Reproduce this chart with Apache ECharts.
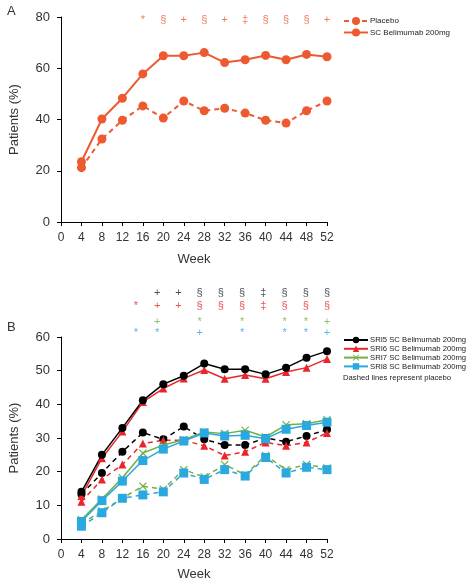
<!DOCTYPE html>
<html><head><meta charset="utf-8">
<script src="https://cdn.jsdelivr.net/npm/echarts@6/dist/echarts.min.js"></script>
<style>html,body{margin:0;padding:0;background:#fff}#c{width:470px;height:582px}</style>
</head><body><div id="c"></div>
<script>
const weeks = [4,8,12,16,20,24,28,32,36,40,44,48,52];
// Panel A
const aPlacebo = [21.2,32.4,39.7,45.3,40.6,47.2,43.4,44.4,42.5,39.7,38.6,43.4,47.2];
const aBelimumab = [23.5,40.2,48.3,57.8,64.9,64.9,66.1,62.2,63.3,65.0,63.3,65.4,64.5];
const aSymbols = ['*','§','+','§','+','‡','§','§','§','+'];
const aSymbolWeeks = [16,20,24,28,32,36,40,44,48,52];
// Panel B
const sri5Bel = [14.0,25.0,33.0,41.2,46.0,48.5,52.1,50.4,50.4,48.9,50.9,53.8,55.8];
const sri6Bel = [12.8,24.0,31.9,40.7,44.7,47.7,50.2,47.6,48.7,47.6,49.6,50.9,53.5];
const sri7Bel = [5.7,11.9,18.2,25.5,27.9,29.5,31.8,31.3,32.3,30.3,33.9,34.2,35.4];
const sri8Bel = [5.2,11.4,17.2,23.3,26.7,29.1,31.5,30.6,30.8,29.8,32.6,33.7,34.7];
const sri5Pbo = [13.3,19.6,25.9,31.6,29.6,33.4,29.6,27.9,27.9,30.0,28.9,30.6,32.5];
const sri6Pbo = [11.1,17.7,22.1,28.4,29.3,29.3,27.7,24.8,25.9,28.7,27.7,28.7,31.5];
const sri7Pbo = [4.6,8.3,12.1,15.7,14.8,20.6,18.4,22.1,19.1,24.8,20.6,22.1,21.1];
const sri8Pbo = [3.8,7.8,12.1,13.1,14.0,19.6,17.7,20.6,18.7,24.2,19.6,21.3,20.6];
// significance rows for panel B: [week, symbol]
const sri5Sig = [[20,'+'],[24,'+'],[28,'§'],[32,'§'],[36,'§'],[40,'‡'],[44,'§'],[48,'§'],[52,'§']];
const sri6Sig = [[16,'*'],[20,'+'],[24,'+'],[28,'§'],[32,'§'],[36,'§'],[40,'‡'],[44,'§'],[48,'§'],[52,'§']];
const sri7Sig = [[20,'+'],[28,'*'],[36,'*'],[44,'*'],[48,'*'],[52,'+']];
const sri8Sig = [[16,'*'],[20,'*'],[28,'+'],[36,'*'],[44,'*'],[48,'*'],[52,'+']];
const legendA = ['Placebo','SC Belimumab 200mg'];
const legendB = ['SRI5 SC Belimumab 200mg','SRI6 SC Belimumab 200mg','SRI7 SC Belimumab 200mg','SRI8 SC Belimumab 200mg'];

const FONT = 'Liberation Sans, Arial, sans-serif';
const cA = '#EE5A30', cBlack = '#000000', cRed = '#E8262B', cGreen = '#72B043', cBlue = '#2AA8E0';
const xMark = 'path://M1,0L5,4L9,0L10,1L6,5L10,9L9,10L5,6L1,10L0,9L4,5L0,1Z';

const zip = a => a.map((v,i)=>[weeks[i], v]);

function xAxisDef(gi, gap){
  return {gridIndex:gi, type:'value', min:0, max:52, interval:4,
    name:'Week', nameLocation:'middle', nameGap:gap,
    nameTextStyle:{fontFamily:FONT,fontSize:13,color:'#333'},
    axisLine:{lineStyle:{color:'#000',width:1}}, axisTick:{length:4,lineStyle:{color:'#000'}},
    axisLabel:{fontFamily:FONT,fontSize:12,color:'#333',margin:10}, splitLine:{show:false}};
}
function yAxisDef(gi,max,interval){
  return {gridIndex:gi, type:'value', min:0, max:max, interval:interval,
    name:'Patients (%)', nameLocation:'middle', nameGap:40,
    nameTextStyle:{fontFamily:FONT,fontSize:13,color:'#333'},
    axisLine:{show:true,lineStyle:{color:'#000',width:1}}, axisTick:{show:true,length:4,lineStyle:{color:'#000'}},
    axisLabel:{fontFamily:FONT,fontSize:13,color:'#333',margin:11}, splitLine:{show:false}};
}
function line(name, data, color, dashed, symbol, size, xi, lw){
  return {name:name, type:'line', xAxisIndex:xi, yAxisIndex:xi, data:zip(data),
    symbol:symbol, symbolSize:size, showSymbol:true,
    lineStyle:{color:color,width:lw,type:dashed?[5,4]:'solid'},
    itemStyle:{color:color,borderWidth:0}, z: dashed?2:3, animation:false};
}
function sigSeries(rows, rowVal, color, xi){
  return {type:'scatter', xAxisIndex:xi, yAxisIndex:xi, symbolSize:0, animation:false, silent:true,
    data: rows.map(r=>({value:[r[0], rowVal], sym:r[1]})),
    label:{show:true, position:'inside', formatter:p=>p.data.sym, color:color,
      fontFamily:FONT, fontSize:11}};
}

const option = {
  backgroundColor:'#fff',
  animation:false,
  title:[
    {text:'A', left:2, top:0, textStyle:{fontFamily:FONT,fontSize:13,fontWeight:'normal',color:'#333'}},
    {text:'B', left:2, top:316, textStyle:{fontFamily:FONT,fontSize:13,fontWeight:'normal',color:'#333'}},
    {text:'Dashed lines represent placebo', left:338, top:369, textStyle:{fontFamily:FONT,fontSize:7.7,fontWeight:'normal',color:'#222'}}
  ],
  grid:[
    {left:51, top:17, width:276, height:205},
    {left:51, top:337, width:276, height:205},
    {left:51, top:279.5, width:276, height:66.5}
  ],
  xAxis:[xAxisDef(0,31), xAxisDef(1,29), {gridIndex:2,type:'value',min:0,max:52,show:false}],
  yAxis:[yAxisDef(0,80,20), yAxisDef(1,60,10), {gridIndex:2,type:'value',min:0,max:5,show:false}],
  legend:[
    {data:legendA, left:338, top:12, orient:'vertical', itemGap:3.5,
      itemWidth:24, itemHeight:10, textStyle:{fontFamily:FONT,fontSize:8,color:'#222',padding:[0,0,0,-3]}},
    {data:legendB, left:338, top:331, orient:'vertical', itemGap:0.8,
      itemWidth:24, itemHeight:8, textStyle:{fontFamily:FONT,fontSize:7.7,lineHeight:8,color:'#222',padding:[0,0,0,-3]}}
  ],
  series:[
    line('Placebo', aPlacebo, cA, true, 'circle', 9, 0, 2),
    line('SC Belimumab 200mg', aBelimumab, cA, false, 'circle', 9, 0, 2),
    {type:'scatter', xAxisIndex:0, yAxisIndex:0, symbolSize:0, animation:false, silent:true,
      data: aSymbolWeeks.map((w,i)=>({value:[w,78.8], sym:aSymbols[i]})),
      label:{show:true, position:'inside', formatter:p=>p.data.sym, color:cA, fontFamily:FONT, fontSize:11}},
    line('SRI5 placebo', sri5Pbo, cBlack, true, 'circle', 8, 1, 1.5),
    line('SRI6 placebo', sri6Pbo, cRed, true, 'triangle', 8, 1, 1.5),
    line('SRI7 placebo', sri7Pbo, cGreen, true, xMark, 8, 1, 1.5),
    line('SRI8 placebo', sri8Pbo, cBlue, true, 'rect', 9, 1, 1.5),
    line(legendB[2], sri7Bel, cGreen, false, xMark, 8, 1, 1.5),
    line(legendB[3], sri8Bel, cBlue, false, 'rect', 9, 1, 1.5),
    line(legendB[1], sri6Bel, cRed, false, 'triangle', 8, 1, 1.5),
    line(legendB[0], sri5Bel, cBlack, false, 'circle', 8, 1, 1.5),
    sigSeries(sri5Sig, 4, '#222', 2),
    sigSeries(sri6Sig, 3, cRed, 2),
    sigSeries(sri7Sig, 1.8, cGreen, 2),
    sigSeries(sri8Sig, 1, cBlue, 2)
  ]
};
const chart = echarts.init(document.getElementById('c'), null, {renderer:'canvas'});
chart.setOption(option);
</script>
</body></html>
